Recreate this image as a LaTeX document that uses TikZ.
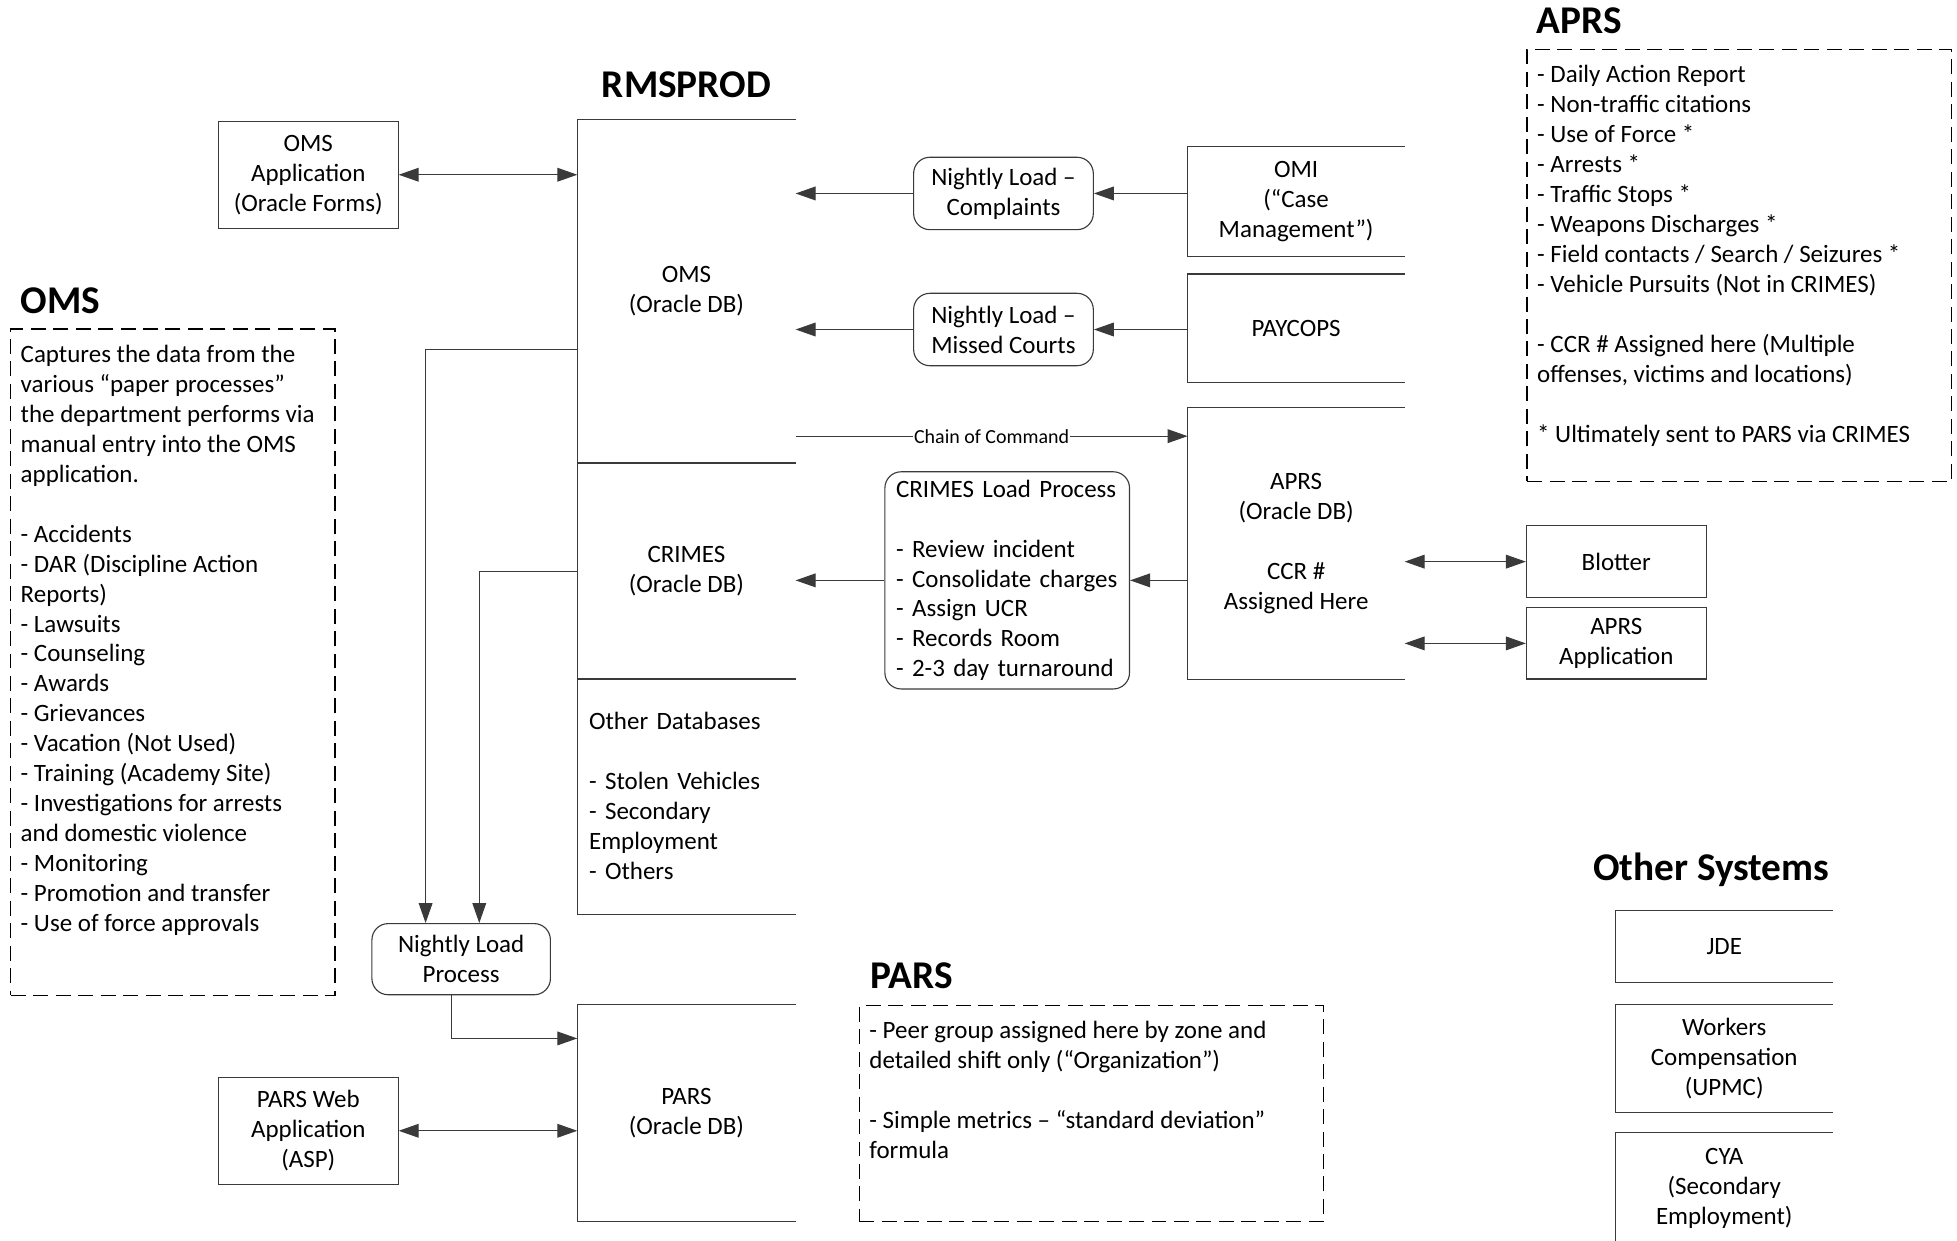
\documentclass[tikz,border=0pt]{standalone}
\usepackage{fontspec}
\setmainfont{Carlito}
\usetikzlibrary{arrows.meta,positioning,calc}
\definecolor{LineGray}{HTML}{3A3A3A}

\begin{document}
\begin{tikzpicture}[x=1pt,y=-1pt,font=\fontsize{20}{24}\selectfont,line width=0.9pt]
    \tikzset{
      storebox/.style={inner sep=0pt,minimum width=174pt,align=center},
      appbox/.style={draw=LineGray,minimum width=144pt,inner sep=0pt,align=center},
      procbox/.style={draw=LineGray,rounded corners=13pt,minimum width=144pt,minimum height=58pt,inner sep=0pt,align=center},
      notebox/.style={draw=black,line width=1.2pt,dash pattern=on 12pt off 6pt,anchor=north west,inner xsep=8pt,inner ysep=10pt},
      titletext/.style={font=\fontsize{31.5}{36}\selectfont\bfseries,inner sep=0pt},
      link/.style={draw=LineGray,-{Triangle[length=16pt,width=11pt]}},
      dlink/.style={draw=LineGray,{Triangle[length=16pt,width=11pt]}-{Triangle[length=16pt,width=11pt]}},
      cmdlabel/.style={fill=white,inner xsep=1pt,inner ysep=2pt,font=\fontsize{16}{19}\selectfont}
    }
    \useasboundingbox (0,0) rectangle (1568,994);

    % headings
    \node[titletext] (rmsprod) at (550,68) {RMSPROD};
    \node[titletext,anchor=west] (omstitle) at (16,241) {OMS};
    \node[titletext,anchor=west] (aprstitle) at (1231,17) {APRS};
    \node[titletext,anchor=west] (parstitle) at (697,782) {PARS};
    \node[titletext,anchor=west] (othertitle) at (1276,697) {Other Systems};

    % RMSPROD data stores
    \node[storebox,minimum height=275pt] (omsdb) at (550,233.5) {OMS\\(Oracle DB)};
    \node[storebox,minimum height=173pt] (crimesdb) at (550,457.5) {CRIMES\\(Oracle DB)};
    \node[storebox,minimum height=188pt,text width=156pt,inner xsep=9pt,align=left] (otherdb) at (550,638)
      {Other Databases\\[24pt]- Stolen Vehicles\\- Secondary\\Employment\\- Others};
    \node[storebox,minimum height=173pt] (parsdb) at (550,891.5) {PARS\\(Oracle DB)};

    % feeding systems
    \node[storebox,minimum width=173pt,minimum height=87pt] (omi) at (1038.5,161.5) {OMI\\(“Case\\Management”)};
    \node[storebox,minimum width=173pt,minimum height=86pt] (paycops) at (1038.5,263) {PAYCOPS};
    \node[storebox,minimum width=173pt,minimum height=217pt] (aprsdb) at (1038.5,435.5)
      {APRS\\(Oracle DB)\\[24pt]CCR \#\\Assigned Here};

    % other systems
    \node[storebox,minimum width=173pt,minimum height=57pt] (jde) at (1381.5,758.5) {JDE};
    \node[storebox,minimum width=173pt,minimum height=86pt] (workers) at (1381.5,848) {Workers\\Compensation\\(UPMC)};
    \node[storebox,minimum width=173pt,minimum height=88pt] (cya) at (1381.5,952) {CYA\\(Secondary\\Employment)};

    \foreach \s in {omsdb,crimesdb,otherdb,parsdb,omi,paycops,aprsdb,jde,workers,cya}
      \draw[LineGray] (\s.north east) -- (\s.north west) -- (\s.south west) -- (\s.south east);

    % applications
    \node[appbox,minimum height=86pt] (omsapp) at (247,140) {OMS\\Application\\(Oracle Forms)};
    \node[appbox,minimum height=86pt] (parsapp) at (247,906) {PARS Web\\Application\\(ASP)};
    \node[appbox,minimum height=58pt] (blotter) at (1295,450) {Blotter};
    \node[appbox,minimum height=57pt] (aprsapp) at (1295,515.5) {APRS\\Application};

    % load processes
    \node[procbox] (complaints) at (804,155) {Nightly Load –\\Complaints};
    \node[procbox] (missed) at (804,264) {Nightly Load –\\Missed Courts};
    \node[procbox,minimum width=196pt,minimum height=174pt,text width=178pt,inner xsep=9pt,align=left] (crimesload) at (807,465)
      {CRIMES Load Process\\[24pt]- Review incident\\- Consolidate charges\\- Assign UCR\\- Records Room\\- 2-3 day turnaround};
    \node[procbox,minimum width=143pt,minimum height=57pt] (nightly) at (369.5,768.5) {Nightly Load\\Process};

    % notes
    \node[notebox] (omsnote) at (8,263) {\parbox[c][514pt][t]{244pt}{\begin{tabular}{@{}l@{}}
      Captures the data from the\\
      various “paper processes”\\
      the department performs via\\
      manual entry into the OMS\\
      application.\\ \\
      - Accidents\\
      - DAR (Discipline Action\\
      Reports)\\
      - Lawsuits\\
      - Counseling\\
      - Awards\\
      - Grievances\\
      - Vacation (Not Used)\\
      - Training (Academy Site)\\
      - Investigations for arrests\\
      and domestic violence\\
      - Monitoring\\
      - Promotion and transfer\\
      - Use of force approvals
    \end{tabular}}};
    \node[notebox] (aprsnote) at (1223,39) {\parbox[c][326pt][t]{324pt}{\begin{tabular}{@{}l@{}}
      - Daily Action Report\\
      - Non-traffic citations\\
      - Use of Force *\\
      - Arrests *\\
      - Traffic Stops *\\
      - Weapons Discharges *\\
      - Field contacts / Search / Seizures *\\
      - Vehicle Pursuits (Not in CRIMES)\\ \\
      - CCR \# Assigned here (Multiple\\
      offenses, victims and locations)\\ \\
      {*} Ultimately sent to PARS via CRIMES
    \end{tabular}}};
    \node[notebox] (parsnote) at (688,805) {\parbox[c][153pt][t]{356pt}{\begin{tabular}{@{}l@{}}
      - Peer group assigned here by zone and\\
      detailed shift only (“Organization”)\\ \\
      - Simple metrics – “standard deviation”\\
      formula
    \end{tabular}}};

    % connectors
    \draw[dlink] (omsapp.east) -- (omsapp.east -| omsdb.west);
    \draw[link] (omi.west |- complaints) -- (complaints.east);
    \draw[link] (complaints.west) -- (complaints.west -| omsdb.east);
    \draw[link] (paycops.west |- missed) -- (missed.east);
    \draw[link] (missed.west) -- (missed.west -| omsdb.east);
    \coordinate (cmdstart) at ([yshift=22pt]omsdb.south east);
    \draw[link] (cmdstart) -- node[cmdlabel] {Chain of Command} (cmdstart -| aprsdb.west);
    \draw[link] (aprsdb.west |- crimesload) -- (crimesload.east);
    \draw[link] (crimesload.west) -- (crimesload.west -| crimesdb.east);
    \draw[dlink] (blotter.west -| aprsdb.east) -- (blotter.west);
    \draw[dlink] (aprsapp.west -| aprsdb.east) -- (aprsapp.west);
    \draw[link] (omsdb.west |- 0,280) -| ([xshift=-28.5pt]nightly.north);
    \draw[link] (crimesdb.west |- 0,458) -| ([xshift=14.5pt]nightly.north);
    \draw[link] ([xshift=-7.5pt]nightly.south) |- (parsdb.west |- 0,832);
    \draw[dlink] (parsapp.east) -- (parsapp.east -| parsdb.west);
\end{tikzpicture}
\end{document}
